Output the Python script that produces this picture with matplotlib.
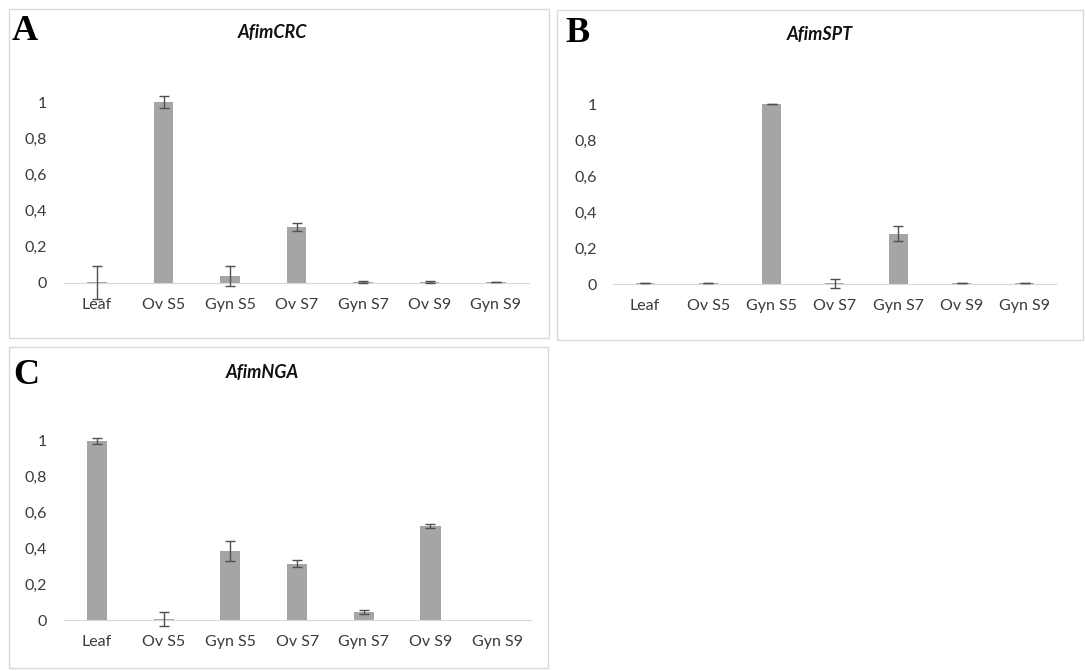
import matplotlib.pyplot as plt
from matplotlib.patches import Rectangle

plt.rcParams['font.family'] = ['Lato', 'DejaVu Sans']

W, H = 1085, 671

categories = ['Leaf', 'Ov S5', 'Gyn S5', 'Ov S7', 'Gyn S7', 'Ov S9', 'Gyn S9']
ytick_vals = [0, 0.2, 0.4, 0.6, 0.8, 1]
ytick_labels = ['0', '0,2', '0,4', '0,6', '0,8', '1']

crc_vals = [0.003, 1.0, 0.04, 0.31, 0.005, 0.005, 0.003]
crc_err = [0.092, 0.035, 0.055, 0.02, 0.007, 0.007, 0.0]

spt_vals = [0.003, 0.003, 1.0, 0.005, 0.28, 0.003, 0.003]
spt_err = [0.0, 0.0, 0.0, 0.025, 0.04, 0.0, 0.0]

nga_vals = [1.0, 0.005, 0.385, 0.315, 0.045, 0.525, 0.0]
nga_err = [0.015, 0.04, 0.055, 0.02, 0.013, 0.01, float('nan')]

BAR = '#a5a5a5'
ERR = '#505050'
TXT = '#3a3a3a'

fig = plt.figure(figsize=(W / 100, H / 100), dpi=100)


def box(x0, y0, x1, y1):
    fig.patches.append(Rectangle((x0 / W, 1 - y1 / H), (x1 - x0) / W, (y1 - y0) / H,
                                 transform=fig.transFigure, fill=False,
                                 edgecolor='#d9d9d9', linewidth=1))


def panel(letter, title, vals, err, cat0, step, zero_y, unit, frame, letter_xy, title_xy):
    box(*frame)
    left = cat0 - 0.5 * step
    right = cat0 + 6.5 * step
    lo, hi = -0.12, 1.12
    top = zero_y - hi * unit
    bottom = zero_y - lo * unit
    ax = fig.add_axes([left / W, 1 - bottom / H, (right - left) / W, (bottom - top) / H])
    x = range(len(categories))
    ax.bar(x, vals, width=0.3, color=BAR, zorder=2)
    ax.errorbar(x, vals, yerr=err, fmt='none', ecolor=ERR, elinewidth=1,
                capsize=3.5, capthick=1, zorder=3, clip_on=False)
    ax.set_xlim(-0.5, 6.5)
    ax.set_ylim(lo, hi)
    for s in ['top', 'right', 'left']:
        ax.spines[s].set_visible(False)
    ax.spines['bottom'].set_position(('data', 0))
    ax.spines['bottom'].set_color('#d9d9d9')
    ax.set_xticks(list(x), categories)
    ax.set_yticks(ytick_vals, ytick_labels)
    ax.tick_params(axis='x', length=0, pad=11, labelsize=11.5, labelcolor=TXT)
    ax.tick_params(axis='y', length=0, pad=12, labelsize=11.5, labelcolor=TXT)
    ax.patch.set_alpha(0)
    fig.text(letter_xy[0] / W, 1 - letter_xy[1] / H, letter, family='Liberation Serif',
             fontsize=26, fontweight='bold', ha='left', va='center')
    fig.text(title_xy[0] / W, 1 - title_xy[1] / H, title, fontsize=13,
             fontweight='bold', fontstyle='italic', ha='center', va='center', color='#111111')


panel('A', 'AfimCRC', crc_vals, crc_err, 97, 66.5, 283, 181,
      (9, 9, 549, 338), (12, 31), (272, 33))
panel('B', 'AfimSPT', spt_vals, spt_err, 645, 63.3, 284, 180,
      (557, 10, 1083, 340), (565, 33), (820, 34))
panel('C', 'AfimNGA', nga_vals, nga_err, 97, 66.7, 620, 179,
      (9, 347, 548, 668), (13, 375), (262, 373))

fig.savefig('out.png', dpi=100)
